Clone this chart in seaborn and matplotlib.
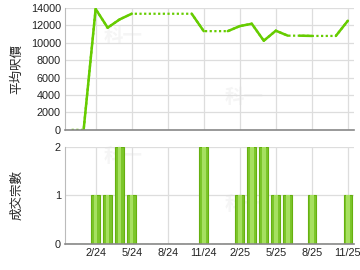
import numpy as np
import pandas as pd
import matplotlib
matplotlib.use("Agg")
import matplotlib.pyplot as plt
import seaborn as sns

# ---- data ----
months = ["12/23", "1/24", "2/24", "3/24", "4/24", "5/24", "6/24", "7/24",
          "8/24", "9/24", "10/24", "11/24", "12/24", "1/25", "2/25", "3/25",
          "4/25", "5/25", "6/25", "7/25", "8/25", "9/25", "10/25", "11/25"]
avg_price = [None, None, 13900, 11750, 12700, 13350, None, None,
             None, None, None, 11350, None, None, 11930, 12200,
             10250, 11400, 10830, None, 10800, None, None, 12550]
counts = [0, 0, 1, 1, 2, 1, 0, 0, 0, 0, 0, 2, 0, 0, 1, 2, 2, 1, 1, 0, 1, 0, 0, 1]
tick_labels = ["2/24", "5/24", "8/24", "11/24", "2/25", "5/25", "8/25", "11/25"]
price_ticks = [0, 2000, 4000, 6000, 8000, 10000, 12000, 14000]
count_ticks = [0, 1, 2]

sns.set_style("white")
plt.rcParams['font.family'] = ['Liberation Sans', 'Noto Sans CJK TC', 'DejaVu Sans']

idx = np.arange(len(months))
price = pd.Series(avg_price, dtype=float)
has_data = price.notna().values
filled = price.ffill().fillna(0).values
df = pd.DataFrame({"m": idx, "price": filled, "count": counts})

fig = plt.figure(figsize=(3.6, 2.7), dpi=100)
ax1 = fig.add_axes([0.1806, 0.519, 0.8024, 0.451])
ax2 = fig.add_axes([0.1806, 0.0963, 0.8024, 0.3593])

LINE = "#66CC00"
tick_pos = [months.index(t) for t in tick_labels]

# dotted base line (forward filled)
sns.lineplot(data=df, x="m", y="price", ax=ax1, color=LINE, lw=1.6,
             linestyle=(0, (1, 1.1)), dash_capstyle="butt")
# solid segments leading into months with data
for i in idx[1:]:
    if has_data[i]:
        sns.lineplot(data=df.iloc[i - 1:i + 1], x="m", y="price", ax=ax1,
                     color=LINE, lw=1.8, solid_capstyle="round")

# bars
sns.barplot(data=df, x="m", y="count", ax=ax2, native_scale=True, width=0.72,
            color="#7CC62A", edgecolor="#66B010", linewidth=0.8, saturation=1)
sns.barplot(data=df, x="m", y="count", ax=ax2, native_scale=True, width=0.3,
            color="#A6E060", linewidth=0, saturation=1)

for ax in (ax1, ax2):
    ax.set_xlim(-0.55, 23.5)
    ax.set_xticks(tick_pos)
    ax.grid(True, color="#DDDDDD", lw=0.9)
    ax.set_axisbelow(True)
    for s in ("top", "right"):
        ax.spines[s].set_visible(False)
    ax.spines["left"].set_color("#BBBBBB")
    ax.spines["bottom"].set_color("#888888")
    ax.spines["bottom"].set_linewidth(1.2)
    ax.tick_params(length=0, labelsize=7.8, colors="#222222", pad=3)
    ax.set_xlabel("")

ax1.set_ylim(0, 14000)
ax1.set_yticks(price_ticks)
ax1.set_xticklabels([])
ax1.set_ylabel("平均呎價", fontsize=9, family=['Noto Sans CJK TC'])
ax1.yaxis.set_label_coords(-0.145, 0.5)

ax2.set_ylim(0, 2)
ax2.set_yticks(count_ticks)
ax2.set_xticklabels(tick_labels)
ax2.set_ylabel("成交宗數", fontsize=9, family=['Noto Sans CJK TC'])
ax2.yaxis.set_label_coords(-0.145, 0.5)

# faint watermarks
for ax, pts in ((ax1, [(0.2, 0.72), (0.62, 0.22)]), (ax2, [(0.2, 0.85), (0.62, 0.35)])):
    for (x, y) in pts:
        ax.text(x, y, "科一", transform=ax.transAxes, fontsize=14, color="#F5F5F5",
                family=['Noto Sans CJK TC'], fontweight="bold", zorder=0, ha="center")

fig.savefig("out.png", dpi=100)
